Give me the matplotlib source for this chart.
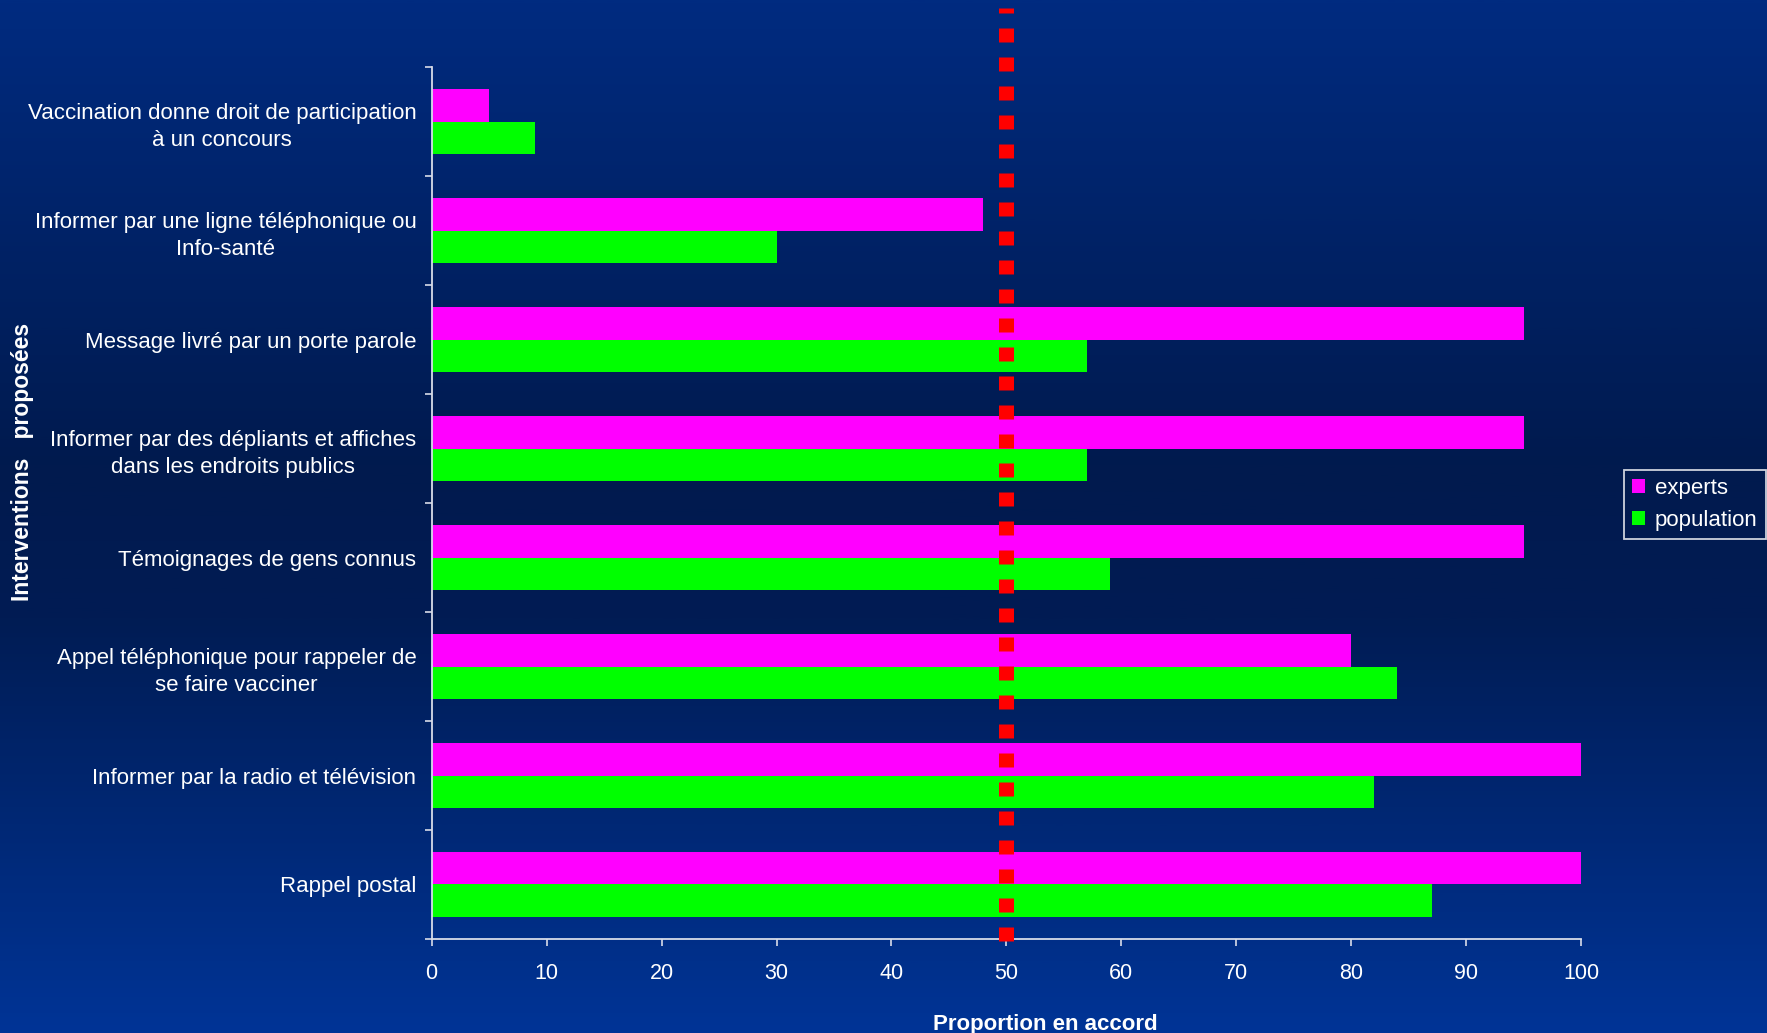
import numpy as np
import matplotlib
matplotlib.use("Agg")
import matplotlib.pyplot as plt
from matplotlib.colors import LinearSegmentedColormap
from matplotlib.transforms import blended_transform_factory

categories = [
    "Vaccination donne droit de participation\nà un concours",
    "Informer par une ligne téléphonique ou\nInfo-santé",
    "Message livré par un porte parole",
    "Informer par des dépliants et affiches\ndans les endroits publics",
    "Témoignages de gens connus",
    "Appel téléphonique pour rappeler de\nse faire vacciner",
    "Informer par la radio et télévision",
    "Rappel postal",
]
experts = [5, 48, 95, 95, 95, 80, 100, 100]
population = [9, 30, 57, 57, 59, 84, 82, 87]
series_names = ["experts", "population"]
threshold = 50
xticks = [0, 10, 20, 30, 40, 50, 60, 70, 80, 90, 100]

plt.rcParams['font.family'] = ['Liberation Sans', 'DejaVu Sans']
plt.rcParams['lines.scale_dashes'] = False

W, H, DPI = 1767, 1033, 100
fig = plt.figure(figsize=(W / DPI, H / DPI), dpi=DPI)

# gradient background
bg = fig.add_axes([0, 0, 1, 1], zorder=-10)
cmap = LinearSegmentedColormap.from_list(
    "bg", [(0.0, (0/255, 43/255, 128/255)),
           (0.45, (1/255, 26/255, 78/255)),
           (0.6, (1/255, 28/255, 84/255)),
           (1.0, (0/255, 52/255, 150/255))])
grad = np.linspace(0, 1, 512).reshape(-1, 1)
bg.imshow(grad, aspect='auto', cmap=cmap, extent=[0, 1, 0, 1], origin='upper')
bg.set_axis_off()

ax = fig.add_axes([0.2443, 0.0910, 0.8948 - 0.2443, 0.9351 - 0.0910])
ax.set_facecolor('none')

y = np.arange(len(categories))
h = 0.3
ax.barh(y - h / 2, experts, height=h, color='#FF00FF', label=series_names[0], zorder=2)
ax.barh(y + h / 2, population, height=h, color='#00FF00', label=series_names[1], zorder=2)

ax.set_xlim(0, 100)
ax.set_ylim(len(categories) - 0.5, -0.5)

spine_col = '#d8dce8'
for s in ['top', 'right']:
    ax.spines[s].set_visible(False)
for s in ['left', 'bottom']:
    ax.spines[s].set_color(spine_col)
    ax.spines[s].set_linewidth(1.3)

ax.set_yticks(y)
ax.set_yticklabels(categories, fontsize=16, color='white', multialignment='center',
                   linespacing=1.4)
ax.set_yticks(np.arange(-0.5, len(categories), 1.0), minor=True)
ax.tick_params(axis='y', which='major', length=0, pad=11)
ax.tick_params(axis='y', which='minor', length=5, color=spine_col, width=1.2, direction='out')

ax.set_xticks(xticks)
ax.set_xticklabels([str(t) for t in xticks], fontsize=15.5, color='white')
ax.tick_params(axis='x', length=5, color=spine_col, width=1.2, direction='out', pad=12)

ax.set_xlabel("Proportion en accord", fontsize=16, color='white', fontweight='bold',
              labelpad=22)
ax.xaxis.label.set_x(0.534)
fig.text(0.0128, 0.553, "Interventions   proposées", rotation=90, fontsize=16.5,
         color='white', fontweight='bold', ha='center', va='center')

# red dashed threshold line
trans = blended_transform_factory(ax.transData, ax.transAxes)
ln, = ax.plot([threshold, threshold], [1.0677, -0.0069], transform=trans,
              color='#FF0000', linewidth=10.8, clip_on=False, zorder=3,
              solid_capstyle='butt', dash_capstyle='butt')
ln.set_linestyle((9 * 0.72, (14 * 0.72, 15 * 0.72)))

leg = ax.legend(loc='center left', bbox_to_anchor=(0.919, 0.5115),
                bbox_transform=fig.transFigure, fontsize=16, frameon=True,
                handlelength=0.6, handleheight=0.6, handletextpad=0.45,
                borderpad=0.35, labelspacing=0.5, fancybox=False,
                borderaxespad=0)
leg.get_frame().set_facecolor('none')
leg.get_frame().set_edgecolor('white')
leg.get_frame().set_linewidth(1.3)
for t in leg.get_texts():
    t.set_color('white')

fig.savefig("out.png", dpi=DPI)
